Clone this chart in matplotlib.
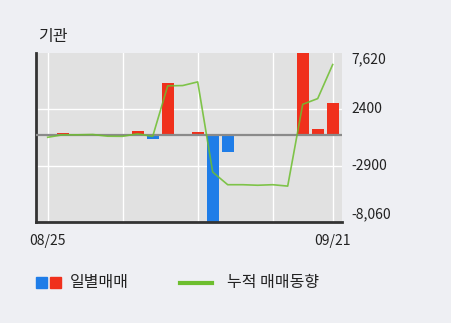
import matplotlib
matplotlib.use("Agg")
import matplotlib.pyplot as plt
from matplotlib.patches import Rectangle
from matplotlib.lines import Line2D

plt.rcParams['font.family'] = ['Noto Sans CJK KR', 'DejaVu Sans']

dates = ["08/25", "08/26", "08/27", "08/28", "08/31", "09/01", "09/02", "09/03",
         "09/04", "09/07", "09/08", "09/09", "09/10", "09/11", "09/14", "09/15",
         "09/16", "09/17", "09/18", "09/21"]
daily = [-80, 180, 0, 0, 0, 0, 420, -320, 4800, 0, 300, -8300, -1550, 0, 0, 60,
         0, 7800, 600, 3000]
cumulative = [-200, 30, 30, 60, -100, -110, 120, -120, 4570, 4600, 4940, -3430,
              -4600, -4600, -4650, -4600, -4730, 2860, 3390, 6550]
ytick_vals = [7620, 2400, -2900, -8060]
ytick_labels = ["7,620", "2400", "-2900", "-8,060"]
xtick_idx = [0, 19]
grid_x = [0, 5, 10, 15, 19]
title = "기관"
legend_bar = "일별매매"
legend_line = "누적 매매동향"

RED = "#F0301C"
BLUE = "#1F7DE8"
GREEN = "#6DBE2E"
BG = "#EEEFF3"
PLOT_BG = "#E1E1E1"
TXT = "#222222"

W, H = 451, 323
fig = plt.figure(figsize=(W / 100, H / 100), dpi=100, facecolor=BG)
ax = fig.add_axes([36 / W, (H - 222) / H, 306 / W, 169 / H])
ax.set_facecolor(PLOT_BG)

x = list(range(len(dates)))
colors = [RED if v >= 0 else BLUE for v in daily]
ax.bar(x, daily, width=0.8, color=colors, zorder=2)
ax.axhline(0, color="#8A8A8A", lw=1.6, zorder=3)
ax.plot(x, cumulative, color=GREEN, lw=1.2, alpha=0.85, zorder=4)

ax.set_xlim(-0.78, 19.62)
ax.set_ylim(ytick_vals[-1], ytick_vals[0])

for gx in grid_x:
    ax.axvline(gx, color="white", lw=1.0, zorder=1)
for gy in ytick_vals[1:3]:
    ax.axhline(gy, color="white", lw=1.0, zorder=1)

ax.set_xticks(xtick_idx)
ax.set_xticklabels([dates[i] for i in xtick_idx], fontsize=10, color=TXT)
ax.tick_params(axis="x", length=0, pad=9)
ax.set_yticks([])

# right-side value labels; extreme labels nudged inward like the reference
offsets = [-4.3, 0, 0, 5.8]
for v, lab, off in zip(ytick_vals, ytick_labels, offsets):
    ax.annotate(lab, xy=(1, v), xycoords=("axes fraction", "data"),
                xytext=(7, off), textcoords="offset points",
                ha="left", va="center", fontsize=10, color=TXT, annotation_clip=False)

for s in ["top", "right"]:
    ax.spines[s].set_visible(False)
ax.spines["left"].set_color("#333333")
ax.spines["left"].set_linewidth(2)
ax.spines["bottom"].set_color("#333333")
ax.spines["bottom"].set_linewidth(2)

fig.text(38 / W, 1 - 37 / H, title, fontsize=11.5, color=TXT, va="center", ha="left")

# legend
fig.patches.append(Rectangle((36 / W, 1 - 288 / H), 11 / W, 11 / H, transform=fig.transFigure,
                             color=BLUE, figure=fig))
fig.patches.append(Rectangle((50 / W, 1 - 288 / H), 11 / W, 11 / H, transform=fig.transFigure,
                             color=RED, figure=fig))
fig.text(70 / W, 1 - 283 / H, legend_bar, fontsize=11.5, color=TXT, va="center", ha="left")
fig.lines.append(Line2D([180 / W, 212 / W], [1 - 283 / H, 1 - 283 / H], transform=fig.transFigure,
                        color=GREEN, lw=3, figure=fig))
fig.text(227 / W, 1 - 283 / H, legend_line, fontsize=11.5, color=TXT, va="center", ha="left")

fig.savefig("out.png", dpi=100, facecolor=BG)
